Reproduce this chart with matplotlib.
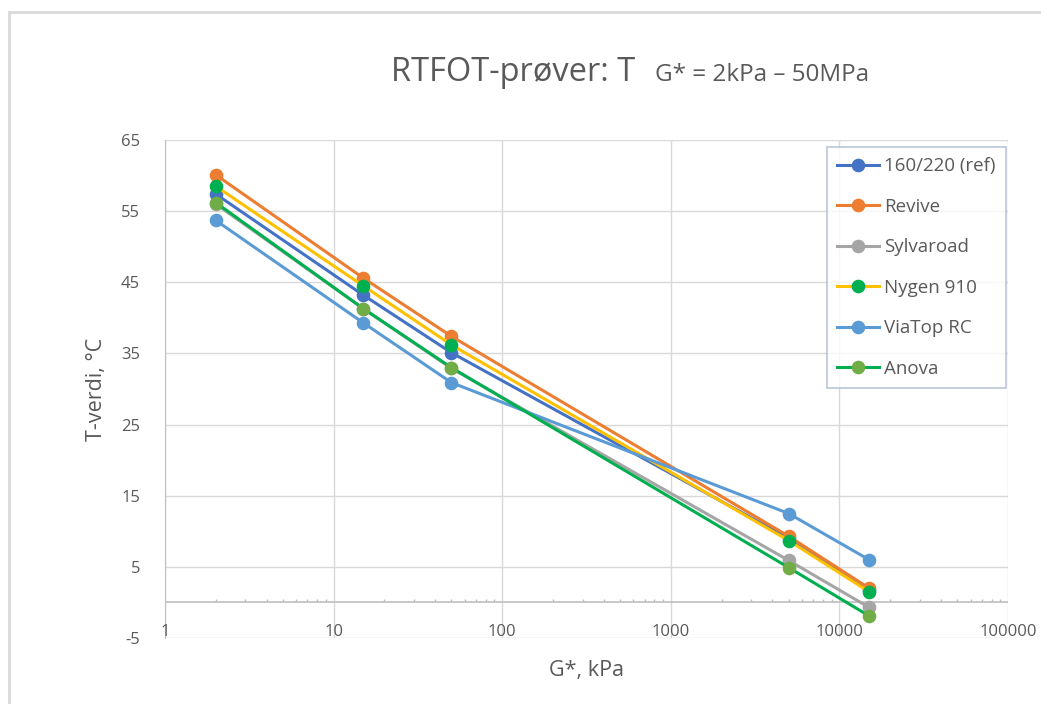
import matplotlib
matplotlib.use("Agg")
import matplotlib.pyplot as plt
from matplotlib.lines import Line2D
import numpy as np

# ---- data ----
g_star = [2, 15, 50, 5000, 15000]
series_names = ["160/220 (ref)", "Revive", "Sylvaroad", "Nygen 910", "ViaTop RC", "Anova"]
t_ref = [57.4, 43.2, 35.1, 9.0, 1.7]
t_revive = [60.1, 45.6, 37.4, 9.3, 2.0]
t_sylvaroad = [56.0, 41.3, 32.9, 5.9, -0.7]
t_nygen = [58.5, 44.5, 36.2, 8.7, 1.5]
t_viatop = [53.7, 39.3, 30.9, 12.5, 6.0]
t_anova = [56.2, 41.3, 33.0, 4.9, -1.9]
x_ticks = [1, 10, 100, 1000, 10000, 100000]
x_tick_labels = ["1", "10", "100", "1000", "10000", "100000"]
y_ticks = [-5, 5, 15, 25, 35, 45, 55, 65]

values = [t_ref, t_revive, t_sylvaroad, t_nygen, t_viatop, t_anova]
line_colors = ["#4472C4", "#ED7D31", "#A5A5A5", "#FFC000", "#5B9BD5", "#00B050"]
marker_colors = ["#4472C4", "#ED7D31", "#A5A5A5", "#00B050", "#5B9BD5", "#70AD47"]

plt.rcParams['font.family'] = ['Open Sans', 'DejaVu Sans']
txt = "#595959"

fig = plt.figure(figsize=(10.41, 7.04), dpi=100)
ax = fig.add_axes([165/1041, 1-638/704, (1008-165)/1041, (638-140)/704])

# figure border (left and top)
fig.add_artist(Line2D([9/1041, 9/1041], [0, 1-12/704], color="#D9D9D9", lw=2, transform=fig.transFigure))
fig.add_artist(Line2D([9/1041, 1], [1-12/704, 1-12/704], color="#D9D9D9", lw=2, transform=fig.transFigure))

ax.set_xscale("log")
ax.set_xlim(1, 100000)
ax.set_ylim(-5, 65)

for yt in y_ticks:
    ax.axhline(yt, color="#D9D9D9", lw=1, zorder=0)
for xt in x_ticks:
    ax.axvline(xt, color="#D9D9D9", lw=1, zorder=0)
ax.axhline(0, color="#BFBFBF", lw=1.2, zorder=1)
# minor ticks on the zero line
minor = [m * d for d in [1, 10, 100, 1000, 10000] for m in range(2, 10)]
ax.vlines(minor, 0, 0.5, color="#BFBFBF", lw=1, zorder=1)

for s in ax.spines.values():
    s.set_visible(False)
ax.spines["left"].set_visible(True)
ax.spines["left"].set_color("#BFBFBF")

ax.set_yticks(y_ticks)
ax.set_yticklabels([str(v) for v in y_ticks], color=txt, fontsize=12)
ax.tick_params(axis="y", length=0, pad=18)
ax.set_xticks([])
ax.minorticks_off()
ax.set_xticks([], minor=True)

for xt, lab in zip(x_ticks, x_tick_labels):
    ax.annotate(lab, (xt, -5), xytext=(0, 2), textcoords="offset pixels",
                ha="center", va="baseline", color=txt, fontsize=12)

for name, vals, lc, mc in zip(series_names, values, line_colors, marker_colors):
    ax.plot(g_star, vals, color=lc, lw=2.2, marker="o", markersize=8.8,
            markerfacecolor=mc, markeredgecolor=mc, label=name, zorder=3, clip_on=False)

ax.set_ylabel("T-verdi, °C", color=txt, fontsize=15.5, labelpad=10)
ax.set_xlabel("G*, kPa", color=txt, fontsize=15.5, labelpad=16)

leg = ax.legend(loc="upper left", bbox_to_anchor=(827/1041, 1-147/704), bbox_transform=fig.transFigure,
                fontsize=13.5, frameon=True, fancybox=False, labelspacing=1.2, handlelength=2.2,
                handletextpad=0.3, borderpad=0.55, borderaxespad=0)
leg.get_frame().set_edgecolor("#A9B7CC")
leg.get_frame().set_linewidth(1.2)
for t in leg.get_texts():
    t.set_color(txt)

fig.text(391/1041, 1-81/704, "RTFOT-prøver: T", fontsize=23.5, color=txt, ha="left", va="baseline")
fig.text(655/1041, 1-81/704, "G* = 2kPa – 50MPa", fontsize=17.5, color=txt, ha="left", va="baseline")

fig.savefig("out.png", dpi=100)
